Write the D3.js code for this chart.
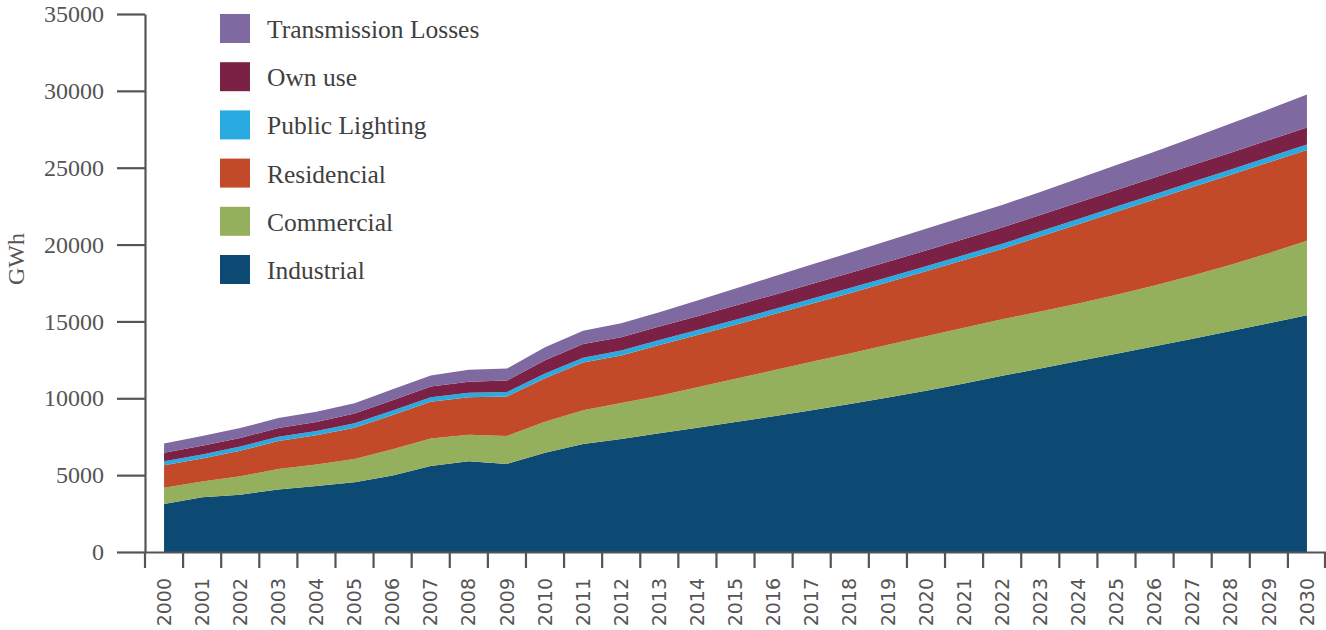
<!DOCTYPE html>
<html>
<head>
<meta charset="utf-8">
<script src="https://cdn.jsdelivr.net/npm/d3@7"></script>
<style>
  html, body { margin: 0; padding: 0; background: #ffffff; }
  svg { display: block; }
</style>
</head>
<body>
<svg id="chart" width="1326" height="630"></svg>
<script>
// ---- data ----
const years = d3.range(2000, 2031).map(String);

const industrial = [3120, 3560, 3730, 4060, 4290, 4530, 4970, 5600, 5900, 5730, 6460, 7030, 7350, 7720,
  8080, 8450, 8830, 9220, 9630, 10050, 10490, 10960, 11460, 11940, 12420, 12900, 13380, 13870, 14370, 14880, 15400];
const commercial = [1060, 1020, 1190, 1340, 1410, 1520, 1710, 1780, 1730, 1820, 2020, 2190, 2340, 2450,
  2640, 2820, 2990, 3150, 3290, 3430, 3540, 3630, 3680, 3700, 3750, 3830, 3950, 4110, 4310, 4560, 4855];
const residencial = [1460, 1500, 1670, 1820, 1890, 2040, 2230, 2390, 2430, 2560, 2820, 3100, 3100, 3300,
  3400, 3520, 3640, 3780, 3920, 4070, 4230, 4400, 4570, 4880, 5150, 5400, 5600, 5760, 5860, 5910, 5900];
const publicLighting = [260, 265, 270, 275, 280, 285, 290, 295, 300, 300, 305, 310, 315, 320,
  322, 324, 326, 328, 330, 332, 334, 336, 338, 340, 342, 344, 346, 348, 350, 352, 355];
const ownUse = [550, 560, 550, 580, 580, 640, 680, 700, 710, 740, 870, 900, 870, 880,
  900, 920, 940, 960, 980, 1000, 1020, 1040, 1060, 1065, 1070, 1075, 1080, 1085, 1090, 1095, 1100];
const transmissionLosses = [610, 640, 650, 640, 680, 670, 700, 720, 790, 780, 840, 870, 910, 930,
  1025, 1110, 1190, 1260, 1320, 1370, 1410, 1440, 1465, 1500, 1560, 1620, 1690, 1780, 1890, 2010, 2145];

const seriesNames = ["Industrial", "Commercial", "Residencial", "Public Lighting", "Own use", "Transmission Losses"];
const seriesValues = [industrial, commercial, residencial, publicLighting, ownUse, transmissionLosses];
const seriesColors = ["#0c4a74", "#95b05c", "#c34a28", "#29aae1", "#7b2145", "#7f69a1"];

const yTicks = [0, 5000, 10000, 15000, 20000, 25000, 30000, 35000];
const yLabel = "GWh";

// ---- build table ----
const table = years.map((y, i) => {
  const row = { year: y };
  seriesNames.forEach((n, k) => { row[n] = seriesValues[k][i]; });
  return row;
});

const svg = d3.select("#chart");
const axisColor = "#555555";
const serif = "'Liberation Serif', 'DejaVu Serif', serif";

const x = d3.scaleBand().domain(years).range([145, 1326]).padding(0);
const xc = d => x(d) + x.bandwidth() / 2;
const y = d3.scaleLinear().domain([0, 35000]).range([552, 14]);

const stack = d3.stack().keys(seriesNames);
const layers = stack(table);

const area = d3.area()
  .x(d => xc(d.data.year))
  .y0(d => y(d[0]))
  .y1(d => y(d[1]));

svg.append("g").selectAll("path")
  .data(layers)
  .join("path")
  .attr("d", area)
  .attr("fill", (d, i) => seriesColors[i]);

// ---- y axis ----
const yAxis = svg.append("g")
  .attr("transform", "translate(145,0)")
  .call(d3.axisLeft(y).tickValues(yTicks).tickSize(28).tickSizeOuter(0).tickPadding(13).tickFormat(d3.format("d")))
  .attr("font-family", serif)
  .attr("font-size", 24);
yAxis.select(".domain").attr("stroke", axisColor).attr("stroke-width", 2.2);
yAxis.selectAll(".tick line").attr("stroke", axisColor).attr("stroke-width", 2.2);
yAxis.selectAll(".tick text")
  .attr("fill", axisColor)
  .attr("font-family", serif)
  .style("font-family", serif)
  .style("font-size", "24px");

// ---- x axis ----
const xAxis = svg.append("g")
  .attr("transform", "translate(0,552)")
  .call(d3.axisBottom(x).tickSize(0).tickSizeOuter(0).tickPadding(0))
  .attr("font-family", "'DejaVu Sans', sans-serif")
  .attr("font-size", 19);
xAxis.select(".domain").attr("stroke", axisColor).attr("stroke-width", 2.2);
xAxis.selectAll(".tick text")
  .attr("fill", axisColor)
  .attr("transform", "rotate(-90)")
  .attr("text-anchor", "end")
  .attr("x", -26)
  .attr("y", 0)
  .attr("dy", "0.35em")
  .style("font-family", "'DejaVu Sans', sans-serif")
  .style("font-size", "19px");

// boundary ticks between categories
const boundaries = years.map(d => x(d)).concat([x.range()[1] - 1]);
svg.append("g").selectAll("line")
  .data(boundaries)
  .join("line")
  .attr("x1", d => d).attr("x2", d => d)
  .attr("y1", 552).attr("y2", 568)
  .attr("stroke", axisColor)
  .attr("stroke-width", 2.2);

// ---- y label ----
svg.append("text")
  .attr("transform", "translate(24,259) rotate(-90)")
  .attr("text-anchor", "middle")
  .attr("fill", axisColor)
  .style("font-family", serif)
  .style("font-size", "24px")
  .text(yLabel);

// ---- legend ----
const legendOrder = seriesNames.map((n, i) => i).reverse();
const legend = svg.append("g");
legendOrder.forEach((k, j) => {
  const top = 14 + j * 48.2;
  legend.append("rect")
    .attr("x", 220).attr("y", top)
    .attr("width", 30).attr("height", 29)
    .attr("fill", seriesColors[k]);
  legend.append("text")
    .attr("x", 267).attr("y", top + 24)
    .attr("fill", "#404040")
    .style("font-family", serif)
    .style("font-size", "25.5px")
    .text(seriesNames[k]);
});
</script>
</body>
</html>
